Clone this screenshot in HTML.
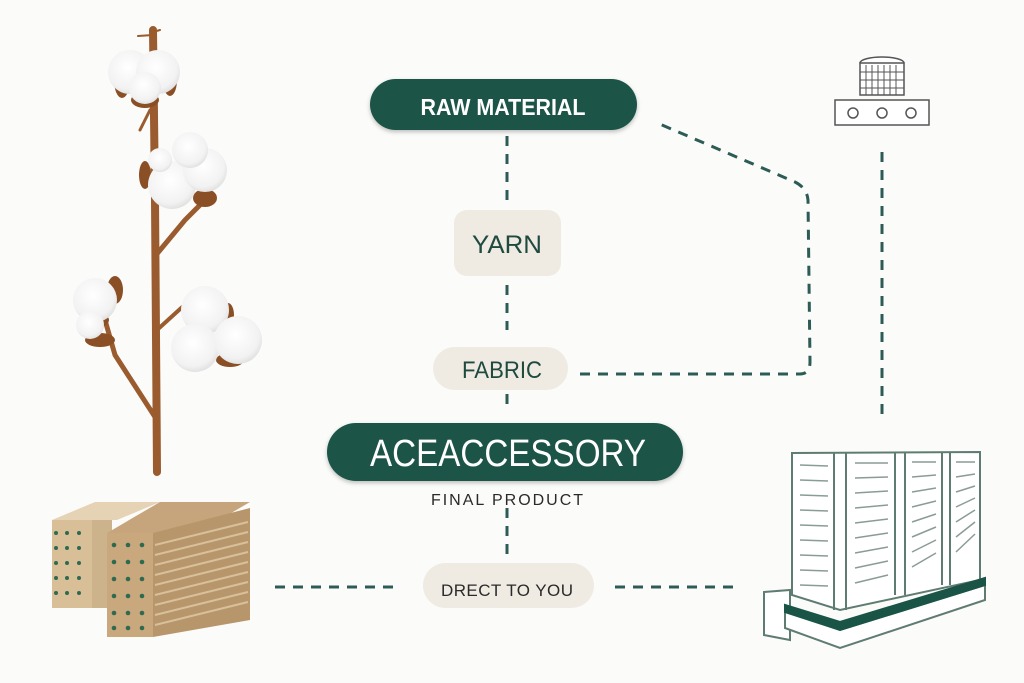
<!DOCTYPE html>
<html><head><meta charset="utf-8"><style>
body{margin:0;background:#fbfbf9;}
svg{display:block}
text{font-family:"Liberation Sans",sans-serif}
</style></head><body>
<svg width="1024" height="683" viewBox="0 0 1024 683" xmlns="http://www.w3.org/2000/svg">
<rect width="1024" height="683" fill="#fbfbf9"/>
<defs>
<filter id="sh" x="-10%" y="-20%" width="120%" height="160%"><feDropShadow dx="0" dy="2" stdDeviation="2" flood-opacity="0.25"/></filter>
<radialGradient id="cot" cx="45%" cy="40%" r="60%"><stop offset="0" stop-color="#ffffff"/><stop offset="0.8" stop-color="#f2f2f2"/><stop offset="1" stop-color="#e2e2e2"/></radialGradient>
</defs>
<!-- connectors -->
<g stroke="#2d5b55" stroke-width="3" stroke-dasharray="10 8" fill="none">
<line x1="507" y1="136" x2="507" y2="200"/>
<line x1="507" y1="285" x2="507" y2="330"/>
<line x1="507" y1="394" x2="507" y2="412"/>
<line x1="507" y1="508" x2="507" y2="555"/>
<line x1="275" y1="587" x2="400" y2="587"/>
<line x1="615" y1="587" x2="740" y2="587"/>
<path d="M580 374 L800 374 Q810 374 810 362 L808 200 Q807 188 795 182 L655 122"/>
<line x1="882" y1="152" x2="882" y2="422"/>
</g>
<!-- nodes -->
<rect x="370" y="79" width="267" height="51" rx="25.5" fill="#1a5446" filter="url(#sh)"/>
<text x="503" y="115" text-anchor="middle" fill="#fff" font-size="23" font-weight="bold" textLength="165" lengthAdjust="spacingAndGlyphs">RAW MATERIAL</text>
<rect x="454" y="210" width="107" height="66" rx="13" fill="#efebe3"/>
<text x="507" y="253" text-anchor="middle" fill="#1f4a40" font-size="25" textLength="70" lengthAdjust="spacingAndGlyphs">YARN</text>
<rect x="433" y="347" width="135" height="43" rx="21.5" fill="#efebe3"/>
<text x="502" y="378" text-anchor="middle" fill="#1f4a40" font-size="24" textLength="80" lengthAdjust="spacingAndGlyphs">FABRIC</text>
<rect x="327" y="423" width="356" height="58" rx="29" fill="#1a5446" filter="url(#sh)"/>
<text x="508" y="466" text-anchor="middle" fill="#fff" font-size="38" textLength="276" lengthAdjust="spacingAndGlyphs">ACEACCESSORY</text>
<text x="507" y="505" text-anchor="middle" fill="#2a2a2a" font-size="16" textLength="152" lengthAdjust="spacing">FINAL PRODUCT</text>
<rect x="423" y="563" width="171" height="45" rx="22.5" fill="#efebe3"/>
<text x="507" y="596" text-anchor="middle" fill="#2a2a2a" font-size="17" textLength="132" lengthAdjust="spacing">DRECT TO YOU</text>
<!-- cotton plant -->
<g stroke="#9a5b2e" stroke-linecap="round" fill="none">
<path d="M153 30 L155 200 L157 472" stroke-width="8"/>
<path d="M156 255 L185 220 L200 205" stroke-width="5"/>
<path d="M157 420 L115 355 L105 320" stroke-width="5"/>
<path d="M157 330 L190 300" stroke-width="4"/>
<path d="M150 110 L140 130" stroke-width="3"/>
<path d="M153 35 L138 36 M153 32 L160 30" stroke-width="2"/>
</g>
<g fill="#8b4f25">
<ellipse cx="122" cy="80" rx="8" ry="18"/><ellipse cx="170" cy="80" rx="7" ry="16"/>
<ellipse cx="145" cy="100" rx="14" ry="8"/>
<ellipse cx="205" cy="198" rx="12" ry="9"/><ellipse cx="145" cy="175" rx="6" ry="14"/>
<ellipse cx="95" cy="320" rx="14" ry="8"/><ellipse cx="100" cy="340" rx="15" ry="7"/><ellipse cx="115" cy="290" rx="8" ry="14"/>
<ellipse cx="230" cy="360" rx="14" ry="7"/><ellipse cx="228" cy="315" rx="6" ry="12"/>
</g>
<g fill="url(#cot)">
<circle cx="130" cy="72" r="22"/><circle cx="158" cy="72" r="22"/><circle cx="145" cy="88" r="16"/>
<circle cx="172" cy="185" r="24"/><circle cx="205" cy="170" r="22"/><circle cx="190" cy="150" r="18"/><circle cx="160" cy="160" r="12"/>
<circle cx="95" cy="300" r="22"/><circle cx="90" cy="325" r="14"/>
<circle cx="205" cy="310" r="24"/><circle cx="195" cy="348" r="24"/><circle cx="238" cy="340" r="24"/>
</g>
<!-- boxes -->
<g>
<polygon points="52,520 95,502 160,502 117,520" fill="#e6d3b6"/>
<rect x="52" y="520" width="40" height="88" fill="#d8bf98"/>
<rect x="92" y="520" width="20" height="88" fill="#cdb38c"/>
<polygon points="107,533 160,502 250,502 197,533" fill="#c6a57c"/>
<polygon points="107,533 153,533 153,637 107,637" fill="#c9a87d"/>
<polygon points="153,533 250,508 250,620 153,637" fill="#b8966b"/>
<g stroke="#d8c09a" stroke-width="2">
<line x1="155" y1="545" x2="248" y2="522"/><line x1="155" y1="555" x2="248" y2="532"/><line x1="155" y1="565" x2="248" y2="542"/><line x1="155" y1="575" x2="248" y2="552"/><line x1="155" y1="585" x2="248" y2="562"/><line x1="155" y1="595" x2="248" y2="572"/><line x1="155" y1="605" x2="248" y2="582"/><line x1="155" y1="615" x2="248" y2="592"/><line x1="155" y1="625" x2="248" y2="602"/>
</g>
<g fill="#2e6a4f">
<circle cx="56" cy="533" r="2"/><circle cx="67" cy="533" r="2"/><circle cx="79" cy="533" r="2"/>
<circle cx="56" cy="548" r="2"/><circle cx="67" cy="548" r="2"/><circle cx="79" cy="548" r="2"/>
<circle cx="56" cy="563" r="2"/><circle cx="67" cy="563" r="2"/><circle cx="79" cy="563" r="2"/>
<circle cx="56" cy="578" r="2"/><circle cx="67" cy="578" r="2"/><circle cx="79" cy="578" r="2"/>
<circle cx="56" cy="593" r="2"/><circle cx="67" cy="593" r="2"/><circle cx="79" cy="593" r="2"/>
<circle cx="114" cy="545" r="2.3"/><circle cx="128" cy="545" r="2.3"/><circle cx="142" cy="545" r="2.3"/>
<circle cx="114" cy="562" r="2.3"/><circle cx="128" cy="562" r="2.3"/><circle cx="142" cy="562" r="2.3"/>
<circle cx="114" cy="579" r="2.3"/><circle cx="128" cy="579" r="2.3"/><circle cx="142" cy="579" r="2.3"/>
<circle cx="114" cy="596" r="2.3"/><circle cx="128" cy="596" r="2.3"/><circle cx="142" cy="596" r="2.3"/>
<circle cx="114" cy="613" r="2.3"/><circle cx="128" cy="613" r="2.3"/><circle cx="142" cy="613" r="2.3"/>
<circle cx="114" cy="628" r="2.3"/><circle cx="128" cy="628" r="2.3"/><circle cx="142" cy="628" r="2.3"/>
</g>
</g>
<!-- tank icon -->
<g stroke="#555" fill="#fff" stroke-width="1.5">
<ellipse cx="882" cy="63" rx="22" ry="6"/>
<rect x="860" y="63" width="44" height="32" fill="#fff"/>
<g stroke-width="1"><line x1="866" y1="65" x2="866" y2="95"/><line x1="872" y1="65" x2="872" y2="95"/><line x1="878" y1="65" x2="878" y2="95"/><line x1="884" y1="65" x2="884" y2="95"/><line x1="890" y1="65" x2="890" y2="95"/><line x1="896" y1="65" x2="896" y2="95"/><line x1="860" y1="72" x2="904" y2="72"/><line x1="860" y1="80" x2="904" y2="80"/><line x1="860" y1="88" x2="904" y2="88"/></g>
<rect x="835" y="100" width="94" height="25"/>
<circle cx="853" cy="113" r="5"/><circle cx="882" cy="113" r="5"/><circle cx="911" cy="113" r="5"/>
</g>
<!-- building -->
<g stroke="#5f7c73" stroke-width="2" fill="#fff">
<polygon points="764,592 790,590 790,640 764,635"/>
<polygon points="785,610 840,630 985,585 985,600 840,648 785,628" fill="#fff"/>
<polygon points="792,453 980,452 980,580 840,610 792,595"/>
<line x1="834" y1="453" x2="834" y2="610"/><line x1="846" y1="453" x2="846" y2="610"/>
<line x1="895" y1="453" x2="895" y2="595"/><line x1="905" y1="453" x2="905" y2="595"/>
<line x1="942" y1="453" x2="942" y2="585"/><line x1="950" y1="453" x2="950" y2="585"/>
<polygon points="785,605 840,622 985,578 985,585 840,630 785,612" fill="#1a5446" stroke="#1a5446"/>
</g>
<g stroke="#8a9c96" stroke-width="1.5">
<line x1="800" y1="465" x2="828" y2="466"/><line x1="800" y1="480" x2="828" y2="481"/><line x1="800" y1="495" x2="828" y2="496"/><line x1="800" y1="510" x2="828" y2="511"/><line x1="800" y1="525" x2="828" y2="526"/><line x1="800" y1="540" x2="828" y2="541"/><line x1="800" y1="555" x2="828" y2="556"/><line x1="800" y1="570" x2="828" y2="571"/><line x1="800" y1="585" x2="828" y2="586"/>
<line x1="855" y1="463" x2="888" y2="463"/><line x1="855" y1="478" x2="888" y2="477"/><line x1="855" y1="493" x2="888" y2="491"/><line x1="855" y1="508" x2="888" y2="505"/><line x1="855" y1="523" x2="888" y2="519"/><line x1="855" y1="538" x2="888" y2="533"/><line x1="855" y1="553" x2="888" y2="547"/><line x1="855" y1="568" x2="888" y2="561"/><line x1="855" y1="583" x2="888" y2="575"/>
<line x1="912" y1="462" x2="936" y2="462"/><line x1="912" y1="477" x2="936" y2="475"/><line x1="912" y1="492" x2="936" y2="488"/><line x1="912" y1="507" x2="936" y2="501"/><line x1="912" y1="522" x2="936" y2="514"/><line x1="912" y1="537" x2="936" y2="527"/><line x1="912" y1="552" x2="936" y2="540"/><line x1="912" y1="567" x2="936" y2="553"/>
<line x1="956" y1="462" x2="975" y2="462"/><line x1="956" y1="477" x2="975" y2="474"/><line x1="956" y1="492" x2="975" y2="486"/><line x1="956" y1="507" x2="975" y2="498"/><line x1="956" y1="522" x2="975" y2="510"/><line x1="956" y1="537" x2="975" y2="522"/><line x1="956" y1="552" x2="975" y2="534"/>
</g>
</svg>
</body></html>
